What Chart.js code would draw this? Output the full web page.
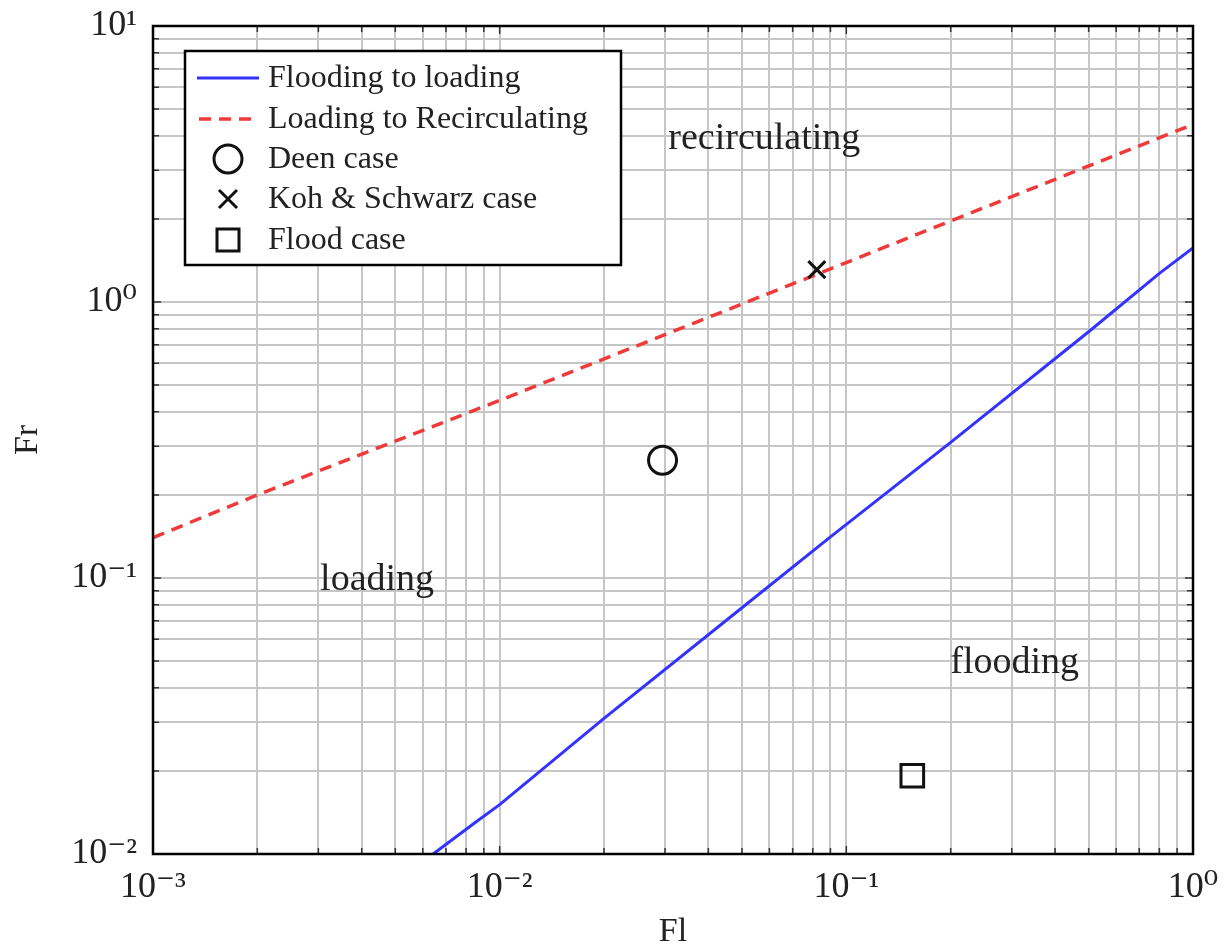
<!DOCTYPE html>
<html>
<head>
<meta charset="utf-8">
<script src="https://cdn.jsdelivr.net/npm/chart.js@4/dist/chart.umd.min.js"></script>
<style>
html,body{margin:0;padding:0;background:#fff;}
#wrap{width:1227px;height:952px;}
</style>
</head>
<body>
<div id="wrap"><canvas id="c" width="1227" height="952"></canvas></div>
<script>
// ---- data ----
const floodToLoadFl = [0.00643, 0.0085, 0.01, 0.02, 0.05, 0.09, 0.2, 0.5, 0.8, 1.0];
const floodToLoadFr = [0.0100, 0.0130, 0.0151, 0.031, 0.078, 0.141, 0.31, 0.78, 1.27, 1.57];
const loadToRecFl = [0.001, 0.002, 0.01, 0.1, 1.0];
const loadToRecFr = [0.140, 0.200, 0.440, 1.39, 4.40];
const deenFl = [0.0295], deenFr = [0.267];
const kohFl = [0.0822], kohFr = [1.31];
const floodFl = [0.155], floodFr = [0.0192];
const seriesNames = ["Flooding to loading", "Loading to Recirculating", "Deen case", "Koh & Schwarz case", "Flood case"];
const regionLabels = ["recirculating", "loading", "flooding"];
const regionFl = [0.058, 0.00443, 0.306];
const regionFr = [3.96, 0.100, 0.050];
// grid / tick positions
const xGridValues = [0.001,0.002,0.003,0.004,0.005,0.006,0.007,0.008,0.009,
                     0.01,0.02,0.03,0.04,0.05,0.06,0.07,0.08,0.09,
                     0.1,0.2,0.3,0.4,0.5,0.6,0.7,0.8,0.9,1];
const yGridValues = [0.01,0.02,0.03,0.04,0.05,0.06,0.07,0.08,0.09,
                     0.1,0.2,0.3,0.4,0.5,0.6,0.7,0.8,0.9,
                     1,2,3,4,5,6,7,8,9,10];
const xTickLabels = {"-3":"10\u207B\u00B3","-2":"10\u207B\u00B2","-1":"10\u207B\u00B9","0":"10\u2070"};
const yTickLabels = {"-2":"10\u207B\u00B2","-1":"10\u207B\u00B9","0":"10\u2070","1":"10\u00B9"};
const xTitle = "Fl", yTitle = "Fr";

const pts = (xs, ys) => xs.map((x, i) => ({x: x, y: ys[i]}));
const SERIF = "'Liberation Serif', 'DejaVu Serif', serif";
const isDecade = v => Math.abs(Math.log10(v) - Math.round(Math.log10(v))) < 1e-9;

function decadeLabel(map, v){
  if (isDecade(v)) { const k = String(Math.round(Math.log10(v))); return map[k] !== undefined ? map[k] : ''; }
  return '';
}

const decor = {
  id: 'decor',
  afterDatasetsDraw(chart){
    const ctx = chart.ctx, a = chart.chartArea;
    const xs = chart.scales.x, ys = chart.scales.y;
    ctx.save();
    // inward tick marks
    ctx.strokeStyle = '#333'; ctx.lineWidth = 1.5;
    xs.ticks.forEach(t => {
      const px = xs.getPixelForValue(t.value);
      const L = isDecade(t.value) ? 8 : 6;
      ctx.beginPath(); ctx.moveTo(px, a.bottom); ctx.lineTo(px, a.bottom - L);
      ctx.moveTo(px, a.top); ctx.lineTo(px, a.top + L); ctx.stroke();
    });
    ys.ticks.forEach(t => {
      const py = ys.getPixelForValue(t.value);
      const L = isDecade(t.value) ? 8 : 6;
      ctx.beginPath(); ctx.moveTo(a.left, py); ctx.lineTo(a.left + L, py);
      ctx.moveTo(a.right, py); ctx.lineTo(a.right - L, py); ctx.stroke();
    });
    // frame
    ctx.strokeStyle = '#000'; ctx.lineWidth = 2.5;
    ctx.strokeRect(a.left, a.top, a.right - a.left, a.bottom - a.top);
    // region labels
    ctx.fillStyle = '#222'; ctx.font = '38px ' + SERIF;
    ctx.textAlign = 'center'; ctx.textBaseline = 'middle';
    regionLabels.forEach((s, i) => {
      ctx.fillText(s, xs.getPixelForValue(regionFl[i]), ys.getPixelForValue(regionFr[i]) + 2);
    });
    // legend
    const lx = a.left + 32, ly = a.top + 25, lw = 436, lh = 214;
    ctx.fillStyle = '#fff'; ctx.fillRect(lx, ly, lw, lh);
    ctx.strokeStyle = '#000'; ctx.lineWidth = 2.5; ctx.strokeRect(lx, ly, lw, lh);
    const rows = [27, 68, 108, 148, 189];
    const sx0 = lx + 12, sx1 = lx + 74, scx = lx + 43, tx = lx + 83;
    ctx.font = '32px ' + SERIF; ctx.textAlign = 'left'; ctx.fillStyle = '#222';
    rows.forEach((r, i) => {
      const y = ly + r;
      ctx.save();
      if (i === 0) { ctx.strokeStyle = '#3333ff'; ctx.lineWidth = 3; ctx.beginPath(); ctx.moveTo(sx0, y); ctx.lineTo(sx1, y); ctx.stroke(); }
      if (i === 1) { ctx.strokeStyle = '#f03a3a'; ctx.lineWidth = 3.5; ctx.setLineDash([12, 8]); ctx.beginPath(); ctx.moveTo(sx0 + 2, y); ctx.lineTo(sx1, y); ctx.stroke(); }
      ctx.strokeStyle = '#111'; ctx.lineWidth = 3;
      if (i === 2) { ctx.beginPath(); ctx.arc(scx, y, 14, 0, Math.PI * 2); ctx.stroke(); }
      if (i === 3) { ctx.beginPath(); ctx.moveTo(scx - 9, y - 9); ctx.lineTo(scx + 9, y + 9); ctx.moveTo(scx + 9, y - 9); ctx.lineTo(scx - 9, y + 9); ctx.stroke(); }
      if (i === 4) { ctx.strokeRect(scx - 11, y - 11, 22, 22); }
      ctx.restore();
      ctx.fillText(seriesNames[i], tx, y + 1);
    });
    ctx.restore();
  }
};

const chart = new Chart(document.getElementById('c'), {
  type: 'scatter',
  data: {
    datasets: [
      {label: seriesNames[0], data: pts(floodToLoadFl, floodToLoadFr), showLine: true, borderColor: '#3333ff', borderWidth: 3, pointRadius: 0, fill: false, order: 2},
      {label: seriesNames[1], data: pts(loadToRecFl, loadToRecFr), showLine: true, borderColor: '#f03a3a', borderWidth: 3.5, borderDash: [12, 8], pointRadius: 0, fill: false, order: 3},
      {label: seriesNames[2], data: pts(deenFl, deenFr), pointStyle: 'circle', pointRadius: 14, borderColor: '#111', backgroundColor: 'rgba(0,0,0,0)', borderWidth: 3, order: 1},
      {label: seriesNames[3], data: pts(kohFl, kohFr), pointStyle: 'crossRot', pointRadius: 12, borderColor: '#111', borderWidth: 3, order: 1},
      {label: seriesNames[4], data: pts(floodFl, floodFr), pointStyle: 'rect', pointRadius: 16, borderColor: '#111', backgroundColor: 'rgba(0,0,0,0)', borderWidth: 3, order: 1}
    ]
  },
  options: {
    responsive: false, animation: false,
    layout: {padding: {left: 0, right: 34, top: 26, bottom: 0}},
    plugins: {legend: {display: false}, tooltip: {enabled: false}},
    scales: {
      x: {
        type: 'logarithmic', min: 0.001, max: 1,
        afterFit(s){ s.height = 98; s.paddingLeft = 0; s.paddingRight = 0; },
        afterBuildTicks(s){ s.ticks = xGridValues.map(v => ({value: v})); },
        grid: {color: '#c6c6c6', lineWidth: 2, drawTicks: false},
        border: {display: false},
        ticks: {autoSkip: false, maxRotation: 0, padding: 12, color: '#222', font: {family: SERIF, size: 36},
          callback: (v) => decadeLabel(xTickLabels, v)},
        title: {display: true, text: xTitle, color: '#222', font: {family: SERIF, size: 34}, padding: {top: 0, bottom: 0}}
      },
      y: {
        type: 'logarithmic', min: 0.01, max: 10,
        afterFit(s){ s.width = 153; s.paddingTop = 0; s.paddingBottom = 0; },
        afterBuildTicks(s){ s.ticks = yGridValues.map(v => ({value: v})); },
        grid: {color: '#c6c6c6', lineWidth: 2, drawTicks: false},
        border: {display: false},
        ticks: {autoSkip: false, padding: 16, color: '#222', font: {family: SERIF, size: 36},
          callback: (v) => decadeLabel(yTickLabels, v)},
        title: {display: true, text: yTitle, color: '#222', font: {family: SERIF, size: 34}, padding: {top: 8, bottom: 0}}
      }
    }
  },
  plugins: [decor]
});
</script>
</body>
</html>
